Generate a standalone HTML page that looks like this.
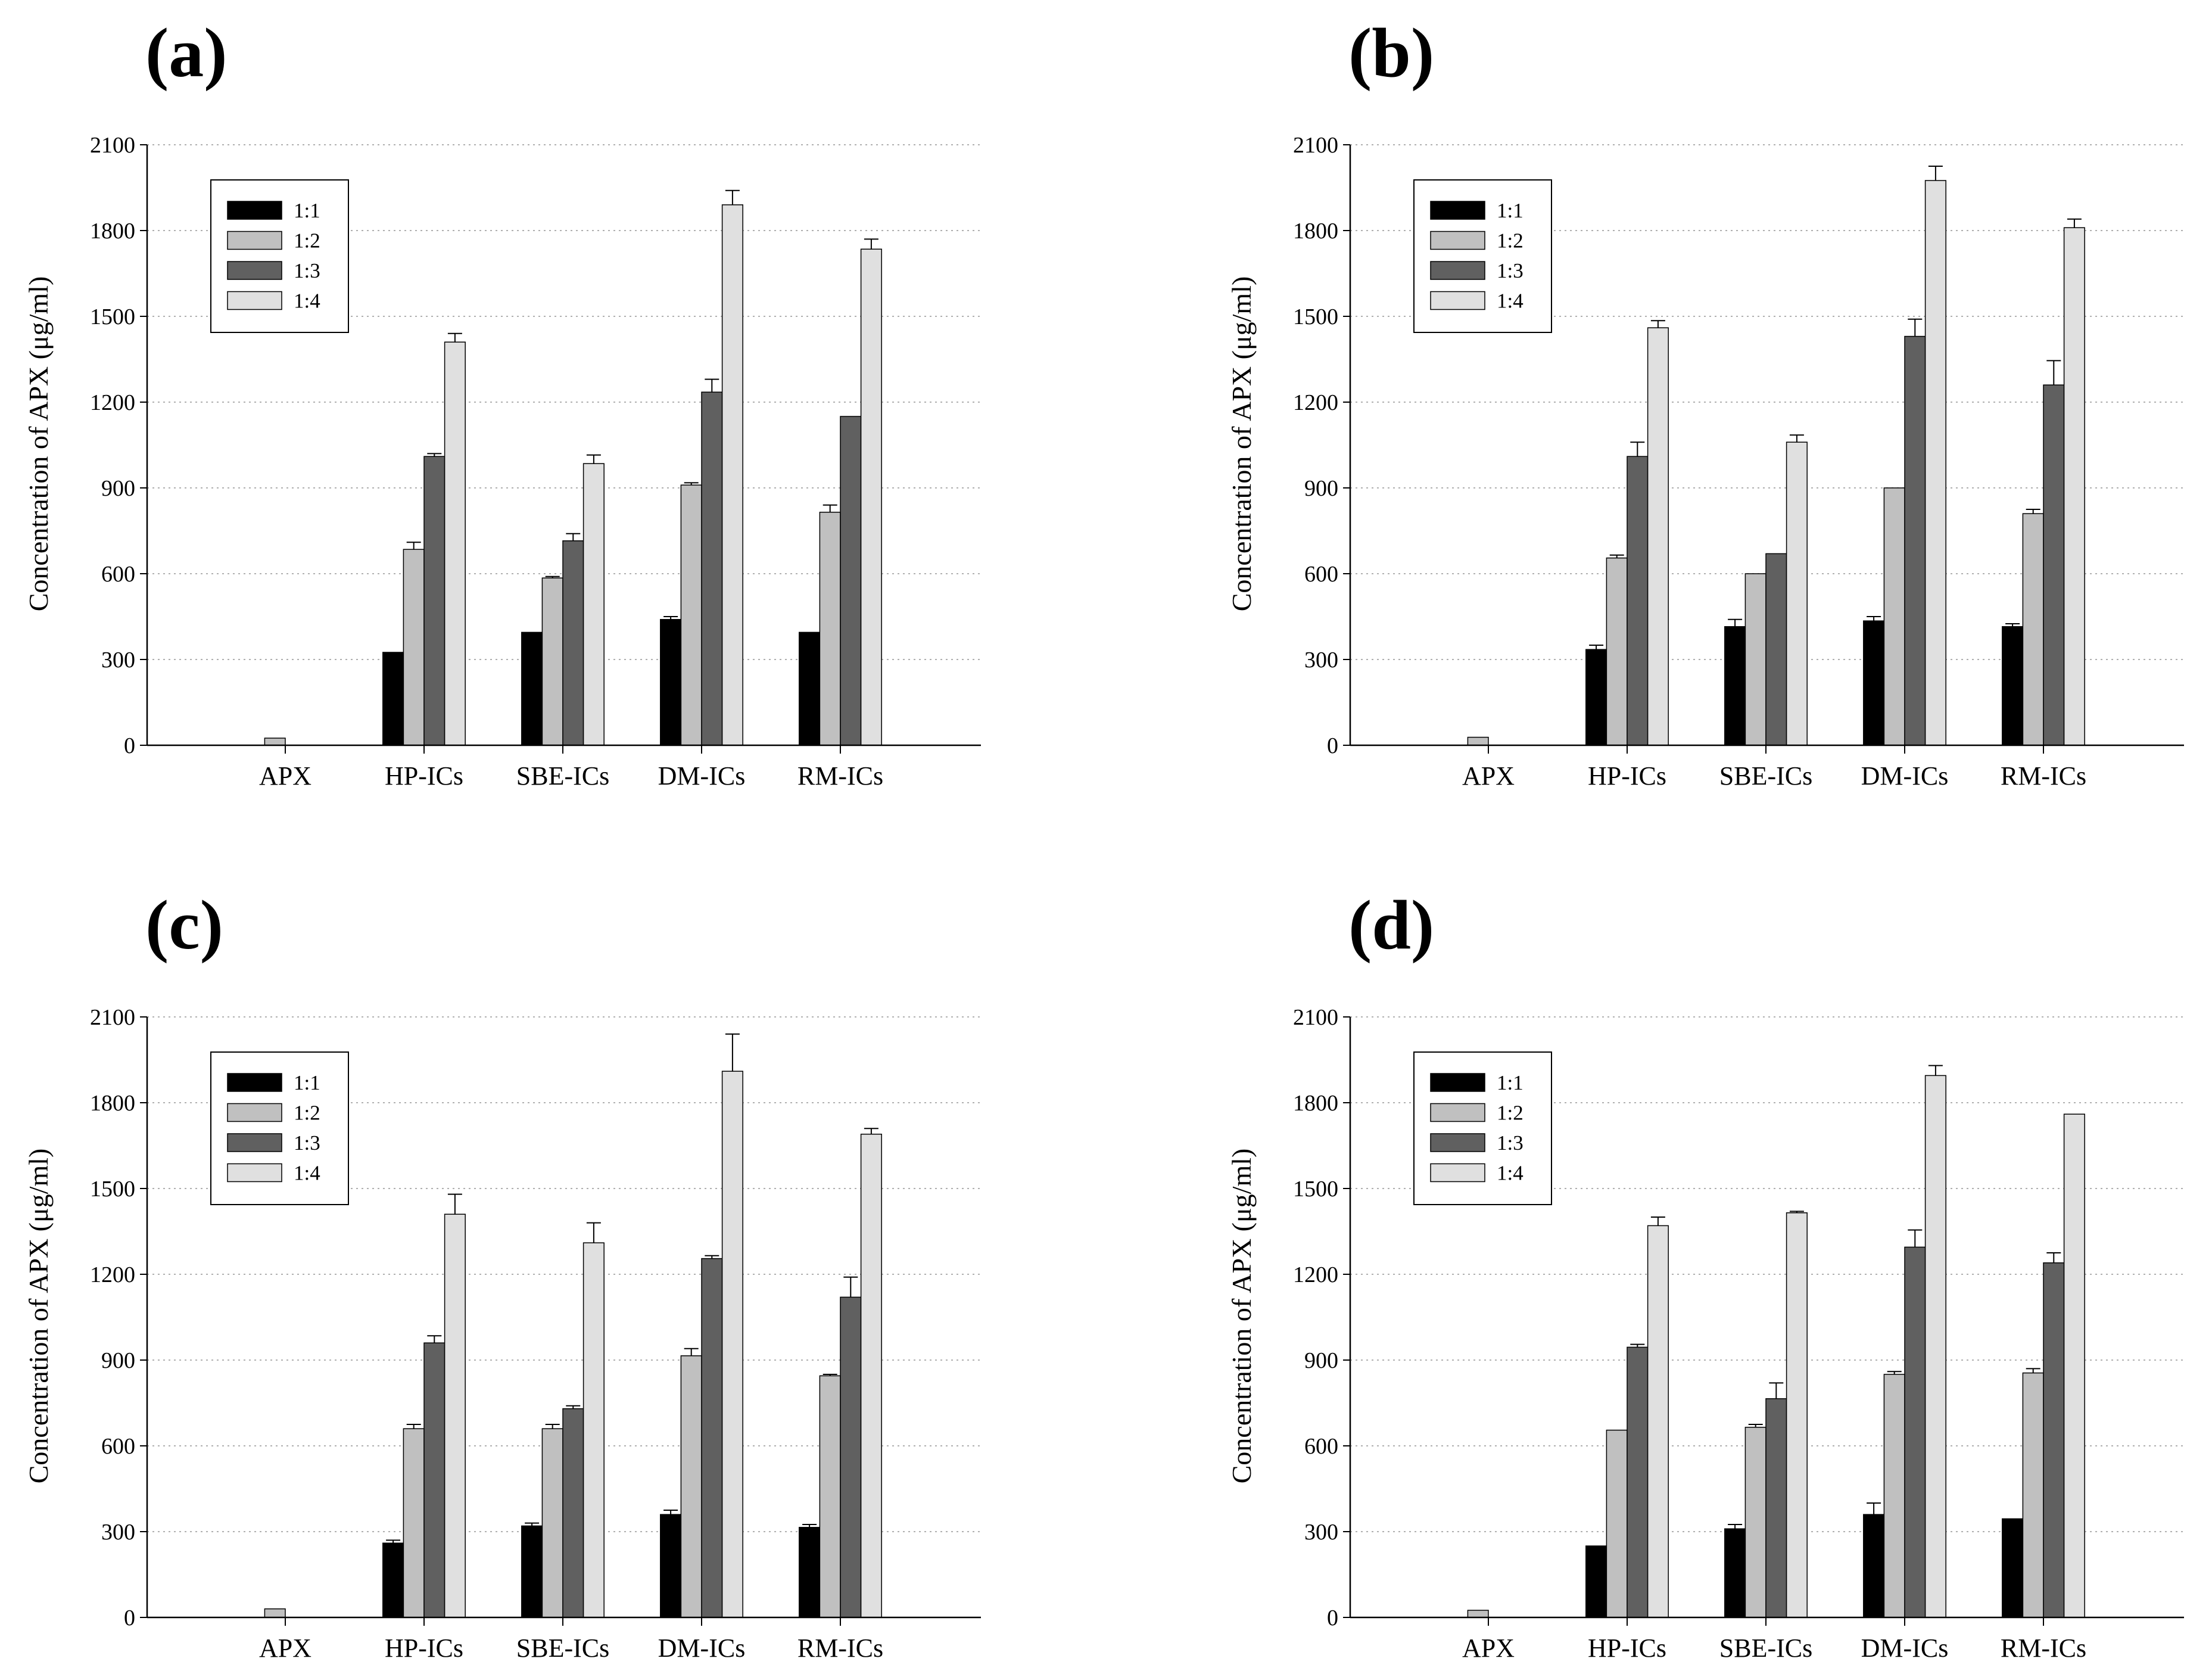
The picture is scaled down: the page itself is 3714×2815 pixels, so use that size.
<!DOCTYPE html>
<html><head><meta charset="utf-8"><style>html,body{margin:0;padding:0;background:#fff}svg{display:block}</style></head>
<body>
<svg id="fig" width="3714" height="2815" viewBox="0 0 3714 2815" xmlns="http://www.w3.org/2000/svg" font-family="Liberation Serif, serif"></svg>
<script>
const categories = ["APX","HP-ICs","SBE-ICs","DM-ICs","RM-ICs"];
const seriesNames = ["1:1","1:2","1:3","1:4"];
const seriesColors = ["#000000","#c0c0c0","#606060","#e0e0e0"];
const yTicks = [0,300,600,900,1200,1500,1800,2100];
const panelLabels = ["(a)","(b)","(c)","(d)"];
const valuesA = [[null,25,null,null],[325,685,1010,1410],[395,585,715,985],[440,910,1235,1890],[395,815,1150,1735]];
const errorsA = [[0,0,0,0],[0,25,10,30],[0,5,25,30],[10,8,45,50],[0,25,0,35]];
const valuesB = [[null,28,null,null],[335,655,1010,1460],[415,600,670,1060],[435,900,1430,1975],[415,810,1260,1810]];
const errorsB = [[0,0,0,0],[15,10,50,25],[25,0,0,25],[15,0,60,50],[10,15,85,30]];
const valuesC = [[null,30,null,null],[260,660,960,1410],[320,660,730,1310],[360,915,1255,1910],[315,845,1120,1690]];
const errorsC = [[0,0,0,0],[10,15,25,70],[10,15,10,70],[15,25,10,130],[10,5,70,20]];
const valuesD = [[null,25,null,null],[250,655,945,1370],[310,665,765,1415],[360,850,1295,1895],[345,855,1240,1760]];
const errorsD = [[0,0,0,0],[0,0,10,30],[15,10,55,5],[40,10,60,35],[0,15,35,0]];
const allValues = [valuesA,valuesB,valuesC,valuesD];
const allErrors = [errorsA,errorsB,errorsC,errorsD];

const NS="http://www.w3.org/2000/svg";
const svg=document.getElementById('fig');
function mk(tag,attrs,parent){const e=document.createElementNS(NS,tag);for(const k in attrs)e.setAttribute(k,attrs[k]);(parent||svg).appendChild(e);return e;}

const offsets=[[0,0],[2020,0],[0,1464],[2020,1464]];
offsets.forEach((off,p)=>{
  const ox=off[0], oy=off[1];
  const g=mk('g',{});
  
  
  const axX=ox+247, axR=ox+1647, y0=oy+1251, yTop=oy+243;
  const yS=v=>y0-(v/2100)*(y0-yTop);
  const xC=i=>ox+479+233*i;
  const bw=34.6;
  const lab=mk('text',{x:ox+244,y:oy+128,'font-size':118,'font-weight':'bold'},g);
  lab.textContent=panelLabels[p];
  
  
  yTicks.forEach(t=>{
    if(t>0){const gl=mk('line',{x1:axX,x2:axR,y1:yS(t),y2:yS(t),stroke:'#b0b0b0','stroke-width':2,'stroke-dasharray':'3,6'},g);
    
    }
    mk('line',{x1:axX-12,x2:axX,y1:yS(t),y2:yS(t),stroke:'#000','stroke-width':2},g);
    const tl=mk('text',{x:axX-20,y:yS(t)+13,'font-size':38,'text-anchor':'end'},g);
    tl.textContent=t;
    
    
  });
  const yt=mk('text',{x:0,y:0,'font-size':46,'text-anchor':'middle',transform:`translate(${ox+80},${oy+745}) rotate(-90)`},g);
  yt.textContent='Concentration of APX (μg/ml)';
  
  
  const vals=allValues[p], errs=allErrors[p];
  categories.forEach((c,i)=>{
    const cx=xC(i);
    mk('line',{x1:cx,x2:cx,y1:y0,y2:y0+14,stroke:'#000','stroke-width':2},g);
    const cl=mk('text',{x:cx,y:y0+66,'font-size':44,'text-anchor':'middle'},g);
    cl.textContent=c;
    
    
    vals[i].forEach((v,s)=>{
      if(v==null)return;
      const x=cx-2*bw+s*bw;
      const e=errs[i][s];
      if(e>0){
        const top=yS(v+e);
        mk('line',{x1:x+bw/2,x2:x+bw/2,y1:yS(v),y2:top,stroke:'#000','stroke-width':2},g);
        mk('line',{x1:x+bw/2-12,x2:x+bw/2+12,y1:top,y2:top,stroke:'#000','stroke-width':2},g);
      }
      const r=mk('rect',{x:x,y:yS(v),width:bw,height:y0-yS(v),fill:seriesColors[s],stroke:'#000','stroke-width':1.5},g);
      
      
    });
  });
  mk('line',{x1:axX,x2:axX,y1:yTop,y2:y0,stroke:'#000','stroke-width':2.5},g);
  mk('line',{x1:axX,x2:axR,y1:y0,y2:y0,stroke:'#000','stroke-width':2.5},g);
  const lg=mk('g',{},g);
  
  
  mk('rect',{x:ox+354,y:oy+302,width:231,height:256,fill:'#fff',stroke:'#000','stroke-width':2},lg);
  seriesNames.forEach((n,s)=>{
    const cy=oy+353+s*50.5;
    const sw=mk('rect',{x:ox+382,y:cy-15,width:91,height:30,fill:seriesColors[s],stroke:'#000','stroke-width':1.5},lg);
    
    
    const t=mk('text',{x:ox+493,y:cy+12,'font-size':35},lg);
    t.textContent=n;
    
    
  });
});
</script>
</body></html>
